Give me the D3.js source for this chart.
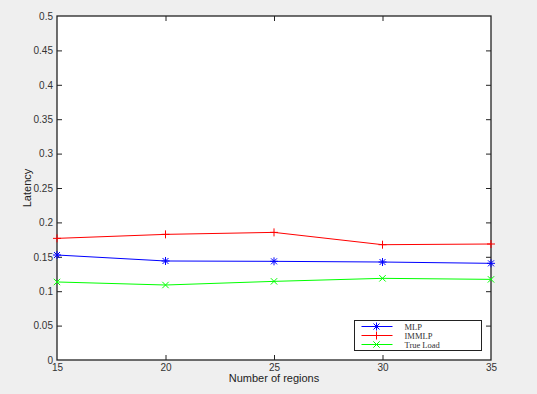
<!DOCTYPE html>
<html lang="en">
<head>
    <meta charset="UTF-8">
    <title>Latency vs Number of regions</title>
    <script src="https://d3js.org/d3.v7.min.js"></script>
    <style>
        body { margin: 0; background: #efefef; }
        svg { display: block; }
        .tick text { font-family: "Liberation Sans", Arial, sans-serif; font-size: 10px; fill: #333; }
    </style>
</head>
<body>
    <div id="plot"></div>
    <script>
        "use strict";

        let regions = [15, 20, 25, 30, 35];
        let mlp = [0.1526, 0.1439, 0.1434, 0.1424, 0.1405];
        let immlp = [0.1768, 0.1826, 0.1855, 0.1676, 0.1686];
        let trueLoad = [0.1134, 0.1090, 0.1143, 0.1187, 0.1172];
        let xTicks = [15, 20, 25, 30, 35];
        let yTicks = [0, 0.05, 0.1, 0.15, 0.2, 0.25, 0.3, 0.35, 0.4, 0.45, 0.5];

        let svgWidth = 537, svgHeight = 394;
        let plotBox = {left: 57, right: 491, top: 16, bottom: 360};

        function translate(px, py){
            return 'translate(' + px + ', ' + py + ')';
        }

        let x = d3.scaleLinear().domain([15, 35]).range([plotBox.left, plotBox.right]);
        let y = d3.scaleLinear().domain([0, 0.5]).range([plotBox.bottom, plotBox.top]);

        let svg = d3.select('#plot')
                    .append('svg')
                    .attr('width', svgWidth)
                    .attr('height', svgHeight);

        svg.append('rect')
            .attr('x', plotBox.left).attr('y', plotBox.top)
            .attr('width', plotBox.right - plotBox.left).attr('height', plotBox.bottom - plotBox.top)
            .style('fill', '#fff');

        // axes with inward ticks, MATLAB style
        let fmt = d => String(+d.toFixed(2));
        svg.append('g')
            .attr('transform', translate(0, plotBox.bottom))
            .call(d3.axisBottom(x).tickValues(xTicks).tickSize(-5).tickPadding(4).tickFormat(d3.format('d')))
            .call(g => g.select('.domain').remove());
        svg.append('g')
            .attr('transform', translate(0, plotBox.top))
            .call(d3.axisTop(x).tickValues(xTicks).tickSize(-5).tickFormat(''))
            .call(g => g.select('.domain').remove());
        svg.append('g')
            .attr('transform', translate(plotBox.left, 0))
            .call(d3.axisLeft(y).tickValues(yTicks).tickSize(-5).tickPadding(4).tickFormat(fmt))
            .call(g => g.select('.domain').remove());
        svg.append('g')
            .attr('transform', translate(plotBox.right, 0))
            .call(d3.axisRight(y).tickValues(yTicks).tickSize(-5).tickFormat(''))
            .call(g => g.select('.domain').remove());
        svg.selectAll('.tick line').style('stroke', '#222');
        svg.selectAll('.tick').filter(d => d === 15 || d === 35 || d === 0 || d === 0.5).select('line').remove();

        svg.append('rect')
            .attr('x', plotBox.left).attr('y', plotBox.top)
            .attr('width', plotBox.right - plotBox.left).attr('height', plotBox.bottom - plotBox.top)
            .style('fill', 'none').style('stroke', '#222').style('stroke-width', 1.3);

        let series = [
            {name: 'MLP', values: mlp, colour: '#0000ff', marker: 'star'},
            {name: 'IMMLP', values: immlp, colour: '#ff0000', marker: 'plus'},
            {name: 'True Load', values: trueLoad, colour: '#00ff00', marker: 'cross'}
        ];

        function drawMarker(g, type, cx, cy, colour){
            let s = 4;
            let paths = [];
            if(type === 'plus' || type === 'star'){
                paths.push([[cx - s, cy], [cx + s, cy]], [[cx, cy - s], [cx, cy + s]]);
            }
            if(type === 'cross' || type === 'star'){
                let c = type === 'star' ? 3 : 3.2;
                paths.push([[cx - c, cy - c], [cx + c, cy + c]], [[cx - c, cy + c], [cx + c, cy - c]]);
            }
            paths.forEach(p => {
                g.append('path')
                    .attr('d', d3.line()(p))
                    .style('stroke', colour)
                    .style('stroke-width', 1)
                    .style('fill', 'none');
            });
        }

        let line = d3.line()
            .x((d, i) => x(regions[i]))
            .y(d => y(d));

        series.forEach(s => {
            let g = svg.append('g');
            g.append('path')
                .attr('d', line(s.values))
                .style('fill', 'none')
                .style('stroke', s.colour)
                .style('stroke-width', 1);
            s.values.forEach((v, i) => drawMarker(g, s.marker, x(regions[i]), y(v), s.colour));
        });

        // legend
        let legend = svg.append('g').attr('transform', translate(354.5, 320.5));
        legend.append('rect')
            .attr('width', 127).attr('height', 30)
            .style('fill', '#fff').style('stroke', '#222').style('stroke-width', 1);
        series.forEach((s, i) => {
            let ly = 6 + i * 9;
            legend.append('line')
                .attr('x1', 7).attr('x2', 38).attr('y1', ly).attr('y2', ly)
                .style('stroke', s.colour).style('stroke-width', 1);
            drawMarker(legend, s.marker, 22, ly, s.colour);
            legend.append('text')
                .attr('x', 50).attr('y', ly + 3)
                .style('font-family', '"Liberation Serif", "Times New Roman", serif')
                .style('font-size', '8.5px')
                .style('fill', '#333')
                .text(s.name);
        });

        svg.append('text')
            .attr('x', (plotBox.left + plotBox.right) / 2).attr('y', 382)
            .attr('text-anchor', 'middle')
            .style('font-family', '"Liberation Sans", Arial, sans-serif')
            .style('font-size', '11px').style('fill', '#222')
            .text('Number of regions');

        svg.append('text')
            .attr('transform', 'translate(31, 188) rotate(-90)')
            .attr('text-anchor', 'middle')
            .style('font-family', '"Liberation Sans", Arial, sans-serif')
            .style('font-size', '11px').style('fill', '#222')
            .text('Latency');
    </script>
</body>
</html>
